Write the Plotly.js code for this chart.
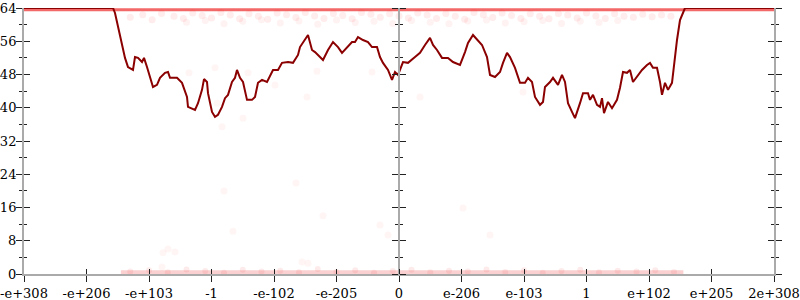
<!DOCTYPE html>
<html>
<head>
<meta charset="utf-8">
<script src="https://cdn.plot.ly/plotly-3.0.1.min.js"></script>
<style>html,body{margin:0;padding:0;background:#fff;}#chart{width:800px;height:300px;}</style>
</head>
<body>
<div id="chart"></div>
<script>
// X tick positions and labels
const tickVals = [-6,-5,-4,-3,-2,-1,0,1,2,3,4,5,6];
const tickText = ["-e+308","-e+206","-e+103","-1","-e-102","-e-205","0","e-206","e-103","1","e+102","e+205","2e+308"];

// Main dark red series
const lineX = [-6,-4.576,-4.544,-4.496,-4.432,-4.384,-4.336,-4.256,-4.224,-4.176,-4.112,-4.08,-4.032,-3.984,-3.936,-3.872,-3.824,-3.744,-3.696,-3.664,-3.552,-3.472,-3.392,-3.376,-3.312,-3.264,-3.216,-3.152,-3.12,-3.072,-3.056,-2.992,-2.944,-2.896,-2.832,-2.784,-2.736,-2.672,-2.624,-2.592,-2.544,-2.496,-2.432,-2.352,-2.304,-2.256,-2.192,-2.112,-2.016,-1.936,-1.872,-1.776,-1.696,-1.616,-1.584,-1.536,-1.456,-1.392,-1.344,-1.216,-1.136,-1.056,-0.976,-0.912,-0.832,-0.752,-0.704,-0.656,-0.576,-0.496,-0.432,-0.352,-0.304,-0.256,-0.176,-0.112,-0.064,-0.016,0.064,0.144,0.256,0.336,0.416,0.496,0.544,0.608,0.688,0.784,0.864,0.976,1.056,1.104,1.184,1.264,1.328,1.408,1.456,1.536,1.616,1.664,1.728,1.776,1.856,1.936,2.016,2.064,2.128,2.176,2.256,2.304,2.336,2.416,2.464,2.544,2.608,2.656,2.704,2.768,2.816,2.896,2.944,3.024,3.056,3.104,3.168,3.216,3.248,3.28,3.344,3.408,3.488,3.536,3.584,3.648,3.696,3.744,3.808,3.888,3.968,4.016,4.064,4.128,4.176,4.208,4.256,4.304,4.368,4.416,4.448,4.496,4.576,6];
const lineY = [64,64,62.8,59.4,55.6,52.0,49.8,49.1,52.2,52.0,51.0,52.0,49.8,47.4,45.0,45.5,47.2,48.4,48.6,47.2,47.2,46.0,42.6,40.2,39.9,39.5,41.1,44.3,46.9,46.2,43.5,39.0,37.8,38.3,40.2,42.3,43.1,46.2,47.2,49.1,47.2,46.2,41.9,41.9,42.6,46.0,46.7,46.2,49.1,49.1,50.8,51.0,50.8,52.7,54.6,55.6,57.5,53.9,53.4,51.5,53.9,55.8,54.6,53.2,54.4,55.8,55.8,57.0,56.3,55.8,54.6,54.6,52.2,50.8,49.1,46.7,48.6,47.9,51.0,50.8,52.2,53.2,55.1,56.8,55.1,53.9,52.0,52.0,51.0,50.3,53.4,55.6,57.5,56.3,55.1,52.2,47.9,47.4,48.6,50.8,53.2,52.2,49.6,46.0,46.0,47.2,46.2,42.6,40.7,41.4,45.0,46.2,47.2,45.5,47.9,46.2,41.1,39.0,37.5,41.1,43.5,43.5,41.9,43.1,40.7,40.2,42.3,38.7,41.4,39.9,41.9,44.8,48.6,48.4,49.1,46.2,47.4,49.1,50.3,50.8,49.6,49.6,46.2,43.1,46.0,44.3,46.0,53.2,56.3,61.1,64,64];

// Faint red strip at the top and pink strip at the bottom
const topStripX = [-6,6];
const topStripY = [63.6,63.6];
const botStripX = [-4.45,4.55];
const botStripY = [0.45,0.45];

// Faint scattered points near the top
const fuzzAX = [-4.3,-4.1,-3.95,-3.8,-3.6,-3.45,-3.3,-3.15,-3.0,-2.85,-2.7,-2.55,-2.4,-2.25,-2.1,-1.95,-1.8,-1.65,-1.5,-1.35,-1.2,-1.05,-0.9,-0.75,-0.6,-0.45,-0.3,-0.15,0.0,0.15,0.3,0.45,0.6,0.75,0.9,1.05,1.2,1.35,1.5,1.65,1.8,1.95,2.1,2.25,2.4,2.55,2.7,2.85,3.0,3.15,3.3,3.45,3.6,3.75,3.9,4.05,4.2,4.35];
const fuzzAY = [61.8,62.4,61.2,62.7,62.0,61.5,62.8,62.2,61.6,62.9,62.3,61.4,62.6,62.0,61.3,62.8,62.4,61.7,62.9,62.1,61.5,62.7,62.2,61.4,62.9,62.5,61.8,62.6,62.1,61.6,62.8,62.3,61.5,62.7,62.0,61.3,62.9,62.4,61.7,62.8,62.2,61.5,62.6,62.0,61.4,62.7,62.3,61.6,62.8,62.1,61.5,62.6,62.0,61.8,62.5,61.9,62.3,62.0];
const fuzzBX = [-3.4,-3.1,-2.8,-2.5,-2.2,-1.9,-1.6,-1.3,-1.0,-0.7,-0.4,-0.1,0.2,0.5,0.8,1.1,1.4,1.7,2.0,2.3,2.6,2.9,3.2,3.5];
const fuzzBY = [60.6,61.0,60.2,60.8,61.2,60.4,60.9,60.1,61.1,60.5,60.8,60.3,61.0,60.6,60.2,60.9,61.1,60.4,60.7,61.0,60.3,60.8,60.5,61.0];

// Faint scattered points near the bottom
const botFX = [-4.3,-4.0,-3.7,-3.4,-3.1,-2.8,-2.5,-2.2,-1.9,-1.6,-1.3,-1.0,-0.7,-0.4,-0.1,0.2,0.5,0.8,1.1,1.4,1.7,2.0,2.3,2.6,2.9,3.2,3.5,3.8,4.1,4.4];
const botFY = [0.6,0.9,0.4,1.1,0.7,0.3,1.0,0.6,0.8,0.4,1.2,0.5,0.9,0.3,0.7,1.0,0.4,0.8,0.6,1.1,0.5,0.9,0.3,0.7,1.0,0.4,0.8,0.6,0.9,0.5];

// Isolated faint points
const outX = [-3.776,-3.696,-3.584,-3.792,-1.216,-0.304,-0.176,1.024,1.456,-1.552,-1.456,-1.312,-0.432,-1.472,0.336,-3.36,-2.944,-2.416,-1.984,-2.912,-2.496,-2.832,1.984,-2.8,-2.656,-1.648];
const outY = [5.1,6.0,5.3,1.7,14.0,11.8,9.4,15.9,9.4,2.9,2.6,48.8,48.6,42.6,42.6,48.4,49.6,48.4,45.5,41.1,37.5,35.4,43.8,20.0,10.3,21.9];

const font = {family: "DejaVu Serif", size: 13, color: "#000"};
const tickCol = "#222";
const axisCol = "#aaaaaa";

const traces = [
  {x: topStripX, y: topStripY, mode: "lines", line: {color: "rgba(238,40,40,0.7)", width: 3}, hoverinfo: "skip", showlegend: false},
  {x: botStripX, y: botStripY, mode: "lines", line: {color: "rgba(245,150,150,0.45)", width: 4}, hoverinfo: "skip", showlegend: false},
  {x: fuzzAX, y: fuzzAY, mode: "markers", marker: {color: "rgba(255,40,40,0.09)", size: 7}, hoverinfo: "skip", showlegend: false},
  {x: fuzzBX, y: fuzzBY, mode: "markers", marker: {color: "rgba(255,40,40,0.06)", size: 7}, hoverinfo: "skip", showlegend: false},
  {x: botFX, y: botFY, mode: "markers", marker: {color: "rgba(240,60,60,0.1)", size: 6}, hoverinfo: "skip", showlegend: false},
  {x: outX, y: outY, mode: "markers", marker: {color: "rgba(255,60,60,0.05)", size: 7}, hoverinfo: "skip", showlegend: false},
  {x: lineX, y: lineY, mode: "lines", line: {color: "#8b0000", width: 2}, hoverinfo: "skip", showlegend: false},
  {x: [null], y: [null], xaxis: "x2", yaxis: "y2", mode: "markers", hoverinfo: "skip", showlegend: false},
  {x: [null], y: [null], xaxis: "x", yaxis: "y3", mode: "markers", hoverinfo: "skip", showlegend: false},
  {x: [null], y: [null], xaxis: "x", yaxis: "y4", mode: "markers", hoverinfo: "skip", showlegend: false}
];

const yBase = {range: [0, 64], dtick: 8, tick0: 0, showgrid: false, zeroline: false, fixedrange: true, tickcolor: tickCol, tickwidth: 1};

const layout = {
  width: 800, height: 300,
  margin: {l: 24, r: 26, t: 8, b: 26},
  paper_bgcolor: "#fff", plot_bgcolor: "#fff",
  font: font,
  xaxis: {range: [-6, 6], tickvals: tickVals, ticktext: tickText, ticks: "outside", ticklen: 6, tickwidth: 1, tickcolor: tickCol,
          showline: true, linecolor: axisCol, linewidth: 2, showgrid: false, zeroline: false, tickfont: font, fixedrange: true},
  xaxis2: {range: [-6, 6], overlaying: "x", anchor: "y", side: "bottom", tickvals: tickVals, ticks: "inside", ticklen: 5, tickwidth: 1,
           tickcolor: tickCol, showticklabels: false, showline: false, showgrid: false, zeroline: false, fixedrange: true},
  yaxis: Object.assign({}, yBase, {ticks: "outside", ticklen: 6, showline: true, linecolor: axisCol, linewidth: 2, mirror: "ticks",
          tickfont: font, ticklabelstandoff: -3,
          minor: {dtick: 4, tick0: 0, ticks: "outside", ticklen: 3, tickcolor: tickCol, tickwidth: 1}}),
  yaxis2: Object.assign({}, yBase, {overlaying: "y", anchor: "x2", side: "left", ticks: "inside", ticklen: 6, showline: false, mirror: "ticks",
          showticklabels: false, minor: {dtick: 4, tick0: 0, ticks: "inside", ticklen: 3, tickcolor: tickCol, tickwidth: 1}}),
  yaxis3: Object.assign({}, yBase, {overlaying: "y", anchor: "free", position: 0.5, side: "left", ticks: "outside", ticklen: 6,
          showline: true, linecolor: axisCol, linewidth: 2, showticklabels: false,
          minor: {dtick: 4, tick0: 0, ticks: "outside", ticklen: 3, tickcolor: tickCol, tickwidth: 1}}),
  yaxis4: Object.assign({}, yBase, {overlaying: "y", anchor: "free", position: 0.5, side: "right", ticks: "outside", ticklen: 6,
          showline: false, showticklabels: false,
          minor: {dtick: 4, tick0: 0, ticks: "outside", ticklen: 3, tickcolor: tickCol, tickwidth: 1}})
};

Plotly.newPlot("chart", traces, layout, {displayModeBar: false, staticPlot: true});
</script>
</body>
</html>
